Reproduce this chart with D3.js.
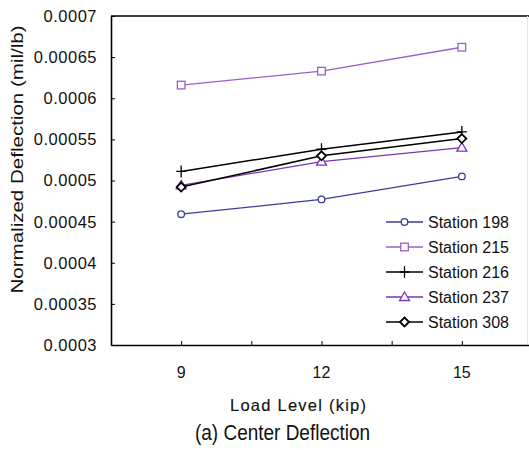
<!DOCTYPE html>
<html>
<head>
<meta charset="utf-8">
<script src="https://cdn.jsdelivr.net/npm/d3@7"></script>
<style>
  html, body { margin: 0; padding: 0; background: #fff; }
  svg { display: block; font-family: "Liberation Sans", Arial, sans-serif; }
</style>
</head>
<body>
<svg id="chart" width="529" height="450"></svg>
<script>
// Load levels (kip)
const loads = [9, 12, 15];
const stationNames = ["Station 198", "Station 215", "Station 216", "Station 237", "Station 308"];
// Normalized center deflection (mil/lb) per station
const station198 = [0.000459, 0.000477, 0.000505];
const station215 = [0.000616, 0.000633, 0.000662];
const station216 = [0.000511, 0.000538, 0.000559];
const station237 = [0.000494, 0.000523, 0.000540];
const station308 = [0.000492, 0.000530, 0.000551];
const yTicks = [0.0003, 0.00035, 0.0004, 0.00045, 0.0005, 0.00055, 0.0006, 0.00065, 0.0007];
const xTicks = [9, 10.5, 12, 13.5, 15];

const series = [
  { name: stationNames[0], values: station198, color: "#3b3b9c", marker: "circle" },
  { name: stationNames[1], values: station215, color: "#9a5fc8", marker: "square" },
  { name: stationNames[2], values: station216, color: "#000000", marker: "plus" },
  { name: stationNames[3], values: station237, color: "#7a35b5", marker: "triangle" },
  { name: stationNames[4], values: station308, color: "#000000", marker: "diamond" }
];

const svg = d3.select("#chart");
const plotLeft = 111, plotRight = 532, plotTop = 16, plotBottom = 345;

const x = d3.scaleLinear().domain([7.5, 16.5]).range([plotLeft, plotRight]);
const y = d3.scaleLinear().domain([0.0003, 0.0007]).range([plotBottom, plotTop]);

// Frame: top edge and faint right edge
svg.append("line").attr("x1", plotLeft).attr("x2", 529).attr("y1", plotTop).attr("y2", plotTop)
  .attr("stroke", "#000").attr("stroke-width", 1.6);
svg.append("line").attr("x1", 527.5).attr("x2", 527.5).attr("y1", plotTop).attr("y2", plotBottom)
  .attr("stroke", "#e2e2e2").attr("stroke-width", 1);

// Y axis with inward ticks
const yAxis = svg.append("g").attr("transform", `translate(${plotLeft},0)`)
  .call(d3.axisRight(y).tickValues(yTicks).tickSizeInner(4).tickSizeOuter(0).tickFormat(() => ""));
yAxis.select(".domain").attr("stroke-width", 1.6);
svg.append("g").selectAll("text").data(yTicks).join("text")
  .attr("x", 97).attr("y", d => y(d)).attr("dy", "0.36em")
  .attr("text-anchor", "end").attr("font-size", 16.5).attr("letter-spacing", 0.5).attr("fill", "#111")
  .text(d => String(+d.toPrecision(2)));

// X axis with inward ticks
const xAxis = svg.append("g").attr("transform", `translate(0,${plotBottom})`)
  .call(d3.axisTop(x).tickValues(xTicks).tickSizeInner(4).tickSizeOuter(0).tickFormat(() => ""));
xAxis.select(".domain").attr("stroke-width", 1.6);
svg.append("g").selectAll("text").data(loads).join("text")
  .attr("x", d => x(d)).attr("y", 378)
  .attr("text-anchor", "middle").attr("font-size", 16).attr("fill", "#111")
  .text(d => d);

// Axis titles and caption
svg.append("text").attr("transform", `translate(23,${(plotTop + plotBottom) / 2 - 21}) rotate(-90)`)
  .attr("text-anchor", "middle").attr("font-size", 16).attr("fill", "#111")
  .attr("textLength", 268).attr("lengthAdjust", "spacingAndGlyphs")
  .text("Normalized Deflection (mil/lb)");
svg.append("text").attr("x", 298).attr("y", 410.5)
  .attr("text-anchor", "middle").attr("font-size", 16.5).attr("fill", "#111")
  .attr("stroke", "#111").attr("stroke-width", 0.15)
  .attr("textLength", 136).attr("lengthAdjust", "spacing")
  .text("Load Level (kip)");
svg.append("text").attr("x", 282.5).attr("y", 440)
  .attr("text-anchor", "middle").attr("font-size", 22).attr("fill", "#111")
  .attr("textLength", 175).attr("lengthAdjust", "spacingAndGlyphs")
  .text("(a) Center Deflection");

// Marker drawing
function drawMarker(g, type, color, cx, cy) {
  if (type === "circle") {
    g.append("circle").attr("cx", cx).attr("cy", cy).attr("r", 3.3)
      .attr("fill", "#fff").attr("stroke", color).attr("stroke-width", 1.3);
  } else if (type === "square") {
    g.append("rect").attr("x", cx - 3.8).attr("y", cy - 3.8).attr("width", 7.6).attr("height", 7.6)
      .attr("fill", "#fff").attr("stroke", color).attr("stroke-width", 1.3);
  } else if (type === "plus") {
    g.append("path").attr("d", `M${cx - 5},${cy}H${cx + 5}M${cx},${cy - 6}V${cy + 6}`)
      .attr("stroke", color).attr("stroke-width", 1.3).attr("fill", "none");
  } else if (type === "triangle") {
    g.append("path").attr("d", `M${cx},${cy - 5}L${cx + 5},${cy + 3.5}L${cx - 5},${cy + 3.5}Z`)
      .attr("fill", "#fff").attr("stroke", color).attr("stroke-width", 1.3);
  } else if (type === "diamond") {
    g.append("path").attr("d", `M${cx},${cy - 4.5}L${cx + 4.5},${cy}L${cx},${cy + 4.5}L${cx - 4.5},${cy}Z`)
      .attr("fill", "#fff").attr("stroke", color).attr("stroke-width", 1.8);
  }
}

const line = d3.line().x((d, i) => x(loads[i])).y(d => y(d));
series.forEach(s => {
  const g = svg.append("g");
  g.append("path").datum(s.values).attr("d", line)
    .attr("fill", "none").attr("stroke", s.color)
    .attr("stroke-width", s.color === "#000000" ? 1.5 : 1.3);
  s.values.forEach((v, i) => drawMarker(g, s.marker, s.color, x(loads[i]), y(v)));
});

// Legend
const legend = svg.append("g");
series.forEach((s, i) => {
  const ly = 222 + i * 25;
  const g = legend.append("g");
  g.append("line").attr("x1", 386).attr("x2", 423).attr("y1", ly).attr("y2", ly)
    .attr("stroke", s.color).attr("stroke-width", 1.3);
  drawMarker(g, s.marker, s.color, 404.5, ly);
  g.append("text").attr("x", 428).attr("y", ly).attr("dy", "0.36em")
    .attr("font-size", 16).attr("fill", "#111").text(s.name);
});
</script>
</body>
</html>
